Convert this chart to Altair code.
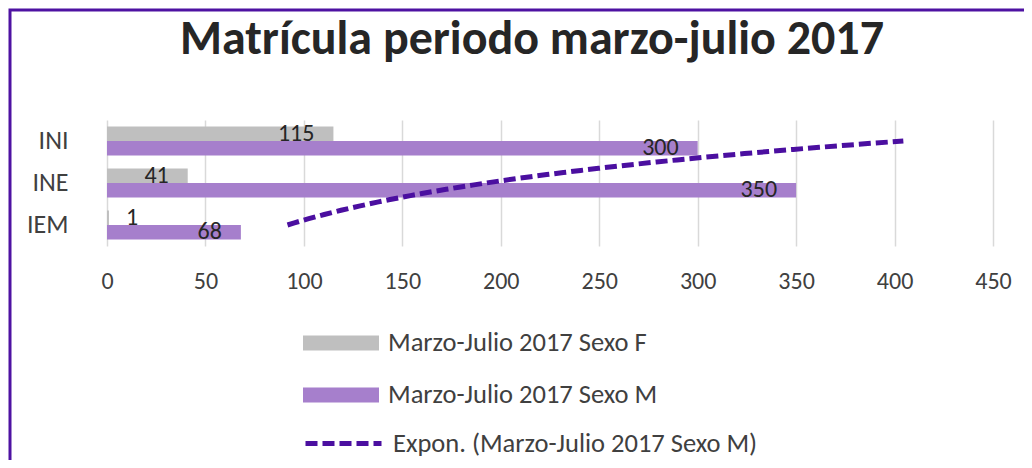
import altair as alt
import pandas as pd

# ---------------- data ----------------
categories = ["INI", "INE", "IEM"]
sexo_f = [115, 41, 1]
sexo_m = [300, 350, 68]
series_names = ["Marzo-Julio 2017 Sexo F", "Marzo-Julio 2017 Sexo M"]
trend_name = "Expon. (Marzo-Julio 2017 Sexo M)"
x_ticks = [0, 50, 100, 150, 200, 250, 300, 350, 400, 450]
title_text = "Matrícula periodo marzo-julio 2017"

FONT = "Carlito, Calibri, Lato, sans-serif"
GRAY = "#BFBFBF"
PURPLE = "#A67FCC"
DARK = "#4B0FA0"
TEXT = "#262626"
LABEL = "#404040"

rows = []
for i, c in enumerate(categories):
    rows.append({"cat": c, "serie": series_names[0], "valor": sexo_f[i]})
    rows.append({"cat": c, "serie": series_names[1], "valor": sexo_m[i]})
bars_df = pd.DataFrame(rows)

# Excel numbers the categories of a bar chart from the bottom: IEM=1, INE=2, INI=3
trend_df = pd.DataFrame({
    "cat": categories,
    "idx": [len(categories) - i for i in range(len(categories))],
    "valor": sexo_m,
    "trend": [trend_name] * len(categories),
})

xscale = alt.Scale(domain=[0, 450], nice=False)

bars = alt.Chart(bars_df).mark_bar().encode(
    x=alt.X("valor:Q", scale=xscale,
            axis=alt.Axis(values=x_ticks, title=None, grid=True, ticks=False, domain=False,
                          gridColor="#D9D9D9", gridWidth=1.5, labelFontSize=24, labelFont=FONT,
                          labelColor=LABEL, labelPadding=23, labelFlush=False)),
    y=alt.Y("cat:N", sort=categories,
            scale=alt.Scale(paddingInner=0.31, paddingOuter=0.155),
            axis=alt.Axis(title=None, ticks=False, domain=False, grid=False, labelFontSize=26,
                          labelFont=FONT, labelColor=LABEL, labelPadding=39)),
    yOffset=alt.YOffset("serie:N", sort=series_names, scale=alt.Scale(paddingInner=0, paddingOuter=0)),
    color=alt.Color("serie:N", sort=series_names,
                    scale=alt.Scale(domain=series_names, range=[GRAY, PURPLE]),
                    legend=alt.Legend(title=None, orient="none", legendX=196, legendY=185,
                                      symbolType="M-1,-0.2H1V0.2H-1Z", symbolSize=5776,
                                      symbolStrokeWidth=0, labelFontSize=26.5, labelFont=FONT,
                                      labelColor=LABEL, labelOffset=9, rowPadding=-24,
                                      labelLimit=600)),
)

labels_big = alt.Chart(bars_df).transform_filter("datum.valor >= 20").mark_text(
    align="right", dx=-19, baseline="middle", fontSize=24, font=FONT, color=TEXT
).encode(
    x=alt.X("valor:Q", scale=xscale),
    y=alt.Y("cat:N", sort=categories),
    yOffset=alt.YOffset("serie:N", sort=series_names),
    text="valor:Q",
)

labels_small = alt.Chart(bars_df).transform_filter("datum.valor < 20").mark_text(
    align="left", dx=19, baseline="middle", fontSize=24, font=FONT, color=TEXT
).encode(
    x=alt.datum(0),
    y=alt.Y("cat:N", sort=categories),
    yOffset=alt.YOffset("serie:N", sort=series_names),
    text="valor:Q",
)

inner = alt.layer(bars, labels_big, labels_small)

# Exponential trendline (Excel style: least squares on ln(y) against category number)
trend = (
    alt.Chart(trend_df)
    .transform_calculate(ly="log(datum.valor)")
    .transform_joinaggregate(mx="mean(idx)", my="mean(ly)", xmin="min(idx)", xmax="max(idx)")
    .transform_calculate(pxy="(datum.idx - datum.mx) * (datum.ly - datum.my)",
                         pxx="(datum.idx - datum.mx) * (datum.idx - datum.mx)")
    .transform_joinaggregate(sxy="sum(pxy)", sxx="sum(pxx)")
    .transform_calculate(b="datum.sxy / datum.sxx")
    .transform_calculate(a="datum.my - datum.b * datum.mx")
    .transform_filter("datum.idx == datum.xmin")
    .transform_calculate(t="sequence(datum.xmin, datum.xmax + 0.001, (datum.xmax - datum.xmin) / 40)")
    .transform_flatten(["t"])
    .transform_calculate(v="exp(datum.a + datum.b * datum.t)")
    .mark_line(color=DARK, strokeWidth=5)
    .encode(
        x=alt.X("v:Q", scale=xscale),
        y=alt.Y("t:Q", scale=alt.Scale(domain=[0.5, 3.5], nice=False, zero=False), axis=None),
        order="t:Q",
        strokeDash=alt.StrokeDash("trend:N", scale=alt.Scale(domain=[trend_name], range=[[12, 5]]),
                                  legend=alt.Legend(title=None, orient="none", legendX=196, legendY=283,
                                                    symbolType="stroke", symbolSize=5776,
                                                    symbolStrokeColor=DARK, symbolStrokeWidth=5,
                                                    labelFontSize=26.5, labelFont=FONT,
                                                    labelColor=LABEL, labelOffset=9,
                                                    labelLimit=600)),
    )
)

frame = alt.Chart(pd.DataFrame({"k": [0]})).mark_rect(
    fillOpacity=0, stroke="#4E12A2", strokeWidth=3
).encode(
    x=alt.value(-97), x2=alt.value(1000), y=alt.value(-110), y2=alt.value(600)
)

chart = alt.layer(frame, inner, trend).resolve_scale(y="independent").properties(
    width=886,
    height=126,
    padding={"left": 99, "top": 112, "right": 31, "bottom": 214},
    autosize=alt.AutoSizeParams(type="none"),
    title=alt.TitleParams(title_text, fontSize=48, fontWeight="bold", font=FONT, color=TEXT,
                          anchor="middle", frame="group", baseline="alphabetic", offset=-93, dx=-18),
).configure_view(stroke=None)

chart.save("out.html", embed_options={"renderer": "svg", "actions": False})
